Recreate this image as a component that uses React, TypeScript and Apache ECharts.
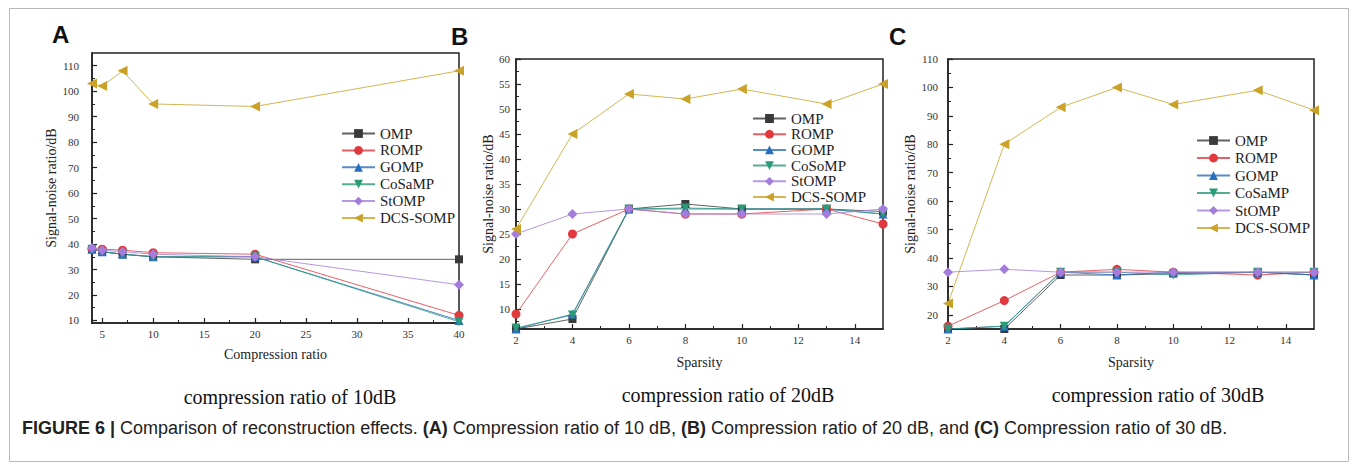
import React, { useEffect, useRef } from "react";
import * as echarts from "echarts";

// ---------- data ----------
const seriesNamesA = ["OMP", "ROMP", "GOMP", "CoSaMP", "StOMP", "DCS-SOMP"];
const seriesNamesB = ["OMP", "ROMP", "GOMP", "CoSoMP", "StOMP", "DCS-SOMP"];
const seriesNamesC = ["OMP", "ROMP", "GOMP", "CoSaMP", "StOMP", "DCS-SOMP"];

const xA = [4, 5, 7, 10, 20, 40];
const A_OMP = [38, 37, 36, 35, 34, 34];
const A_ROMP = [38, 38, 37.6, 36.6, 36, 12];
const A_GOMP = [38, 37, 36, 35, 35, 10];
const A_CoSaMP = [38, 37, 36, 35, 35, 9.5];
const A_StOMP = [38.4, 37.6, 37, 36, 35, 24];
const A_DCS = [103, 102, 108, 95, 94, 108];

const xB = [2, 4, 6, 8, 10, 13, 15];
const B_OMP = [6, 8, 30, 31, 30, 30, 29.5];
const B_ROMP = [9, 25, 30, 29, 29, 30, 27];
const B_GOMP = [6, 9, 30, 30, 30, 30, 29];
const B_CoSoMP = [6.2, 8.8, 30, 30.2, 30, 30, 29];
const B_StOMP = [25, 29, 30, 29, 29, 29, 30];
const B_DCS = [26, 45, 53, 52, 54, 51, 55];

const xC = [2, 4, 6, 8, 10, 13, 15];
const C_OMP = [15, 15, 34, 34, 34.5, 35, 34];
const C_ROMP = [16, 25, 35, 36, 35, 34, 35];
const C_GOMP = [15, 16, 35, 34, 35, 35, 34];
const C_CoSaMP = [15, 16, 35, 35, 34, 35, 35];
const C_StOMP = [35, 36, 35, 35, 35, 35, 35];
const C_DCS = [24, 80, 93, 100, 94, 99, 92];

// tick values
const xTicksA = [5, 10, 15, 20, 25, 30, 35, 40];
const xMinorA = [7.5, 12.5, 17.5, 22.5, 27.5, 32.5, 37.5];
const yTicksA = [10, 20, 30, 40, 50, 60, 70, 80, 90, 100, 110];
const yMinorA = [15, 25, 35, 45, 55, 65, 75, 85, 95, 105];
const xTicksBC = [2, 4, 6, 8, 10, 12, 14];
const xMinorBC = [3, 5, 7, 9, 11, 13];
const yTicksB = [10, 15, 20, 25, 30, 35, 40, 45, 50, 55, 60];
const yMinorB = [7.5, 12.5, 17.5, 22.5, 27.5, 32.5, 37.5, 42.5, 47.5, 52.5, 57.5];
const yTicksC = [20, 30, 40, 50, 60, 70, 80, 90, 100, 110];
const yMinorC = [15, 25, 35, 45, 55, 65, 75, 85, 95, 105];

const COLORS = ["#3a3a3a", "#e0393e", "#2a6fbd", "#2a9a78", "#a47ddc", "#c9a227"];
const SYMBOLS = ["rect", "circle", "triangle", "triangle", "diamond", "triangle"];
const ROTATES = [0, 0, 0, 180, 0, 90];
const SIZES = [8, 9, 9, 9, 10, 10];

const SERIF = "Liberation Serif";
const SANS = "Liberation Sans";

function mkSeries(names: string[], x: number[], ys: number[][], idx: number) {
  return ys.map((y, i) => ({
    type: "line",
    name: names[i],
    xAxisIndex: idx,
    yAxisIndex: idx,
    data: x.map((v, k) => [v, y[k]]),
    symbol: SYMBOLS[i],
    symbolRotate: ROTATES[i],
    symbolSize: SIZES[i],
    itemStyle: { color: COLORS[i] },
    lineStyle: { color: COLORS[i], width: 1, opacity: 0.8 },
    z: i === 5 ? 3 : 2,
  }));
}

function mainX(grid: number, min: number, max: number, ticks: number[], name: string, gap: number) {
  return {
    type: "value",
    gridIndex: grid,
    min,
    max,
    position: "bottom",
    name,
    nameLocation: "middle",
    nameGap: gap,
    nameTextStyle: { fontFamily: SERIF, fontSize: 14, color: "#222" },
    axisLine: { show: true, onZero: false, lineStyle: { color: "#222", width: 1.5 } },
    axisTick: { show: true, inside: true, length: 5, customValues: ticks, lineStyle: { color: "#222", width: 1.2 } },
    axisLabel: { show: true, customValues: ticks, margin: 5, fontFamily: SERIF, fontSize: 11, color: "#333" },
    splitLine: { show: false },
  };
}
function minorX(grid: number, min: number, max: number, ticks: number[]) {
  return {
    type: "value",
    gridIndex: grid,
    min,
    max,
    position: "bottom",
    axisLine: { show: false, onZero: false },
    axisTick: { show: true, inside: true, length: 3, customValues: ticks, lineStyle: { color: "#222", width: 1 } },
    axisLabel: { show: false },
    splitLine: { show: false },
  };
}
function mainY(grid: number, min: number, max: number, ticks: number[], gap: number, margin: number) {
  return {
    type: "value",
    gridIndex: grid,
    min,
    max,
    position: "left",
    name: "Signal-noise ratio/dB",
    nameLocation: "middle",
    nameGap: gap,
    nameTextStyle: { fontFamily: SERIF, fontSize: 14, color: "#222" },
    axisLine: { show: true, onZero: false, lineStyle: { color: "#222", width: 1.5 } },
    axisTick: { show: true, inside: true, length: 5, customValues: ticks, lineStyle: { color: "#222", width: 1.2 } },
    axisLabel: { show: true, customValues: ticks, margin, fontFamily: SERIF, fontSize: 11, color: "#333" },
    splitLine: { show: false },
  };
}
function minorY(grid: number, min: number, max: number, ticks: number[]) {
  return {
    type: "value",
    gridIndex: grid,
    min,
    max,
    position: "left",
    axisLine: { show: false, onZero: false },
    axisTick: { show: true, inside: true, length: 3, customValues: ticks, lineStyle: { color: "#222", width: 1 } },
    axisLabel: { show: false },
    splitLine: { show: false },
  };
}
function mkLegend(names: string[], left: number, top: number, gap: number) {
  return {
    orient: "vertical",
    left,
    top,
    padding: 0,
    itemWidth: 33,
    itemHeight: 11,
    itemGap: gap,
    data: names,
    selectedMode: false,
    textStyle: { fontFamily: SERIF, fontSize: 15, color: "#222" },
  };
}

export default function App() {
  const ref = useRef<HTMLDivElement>(null);
  useEffect(() => {
    if (!ref.current) return;
    const chart = echarts.init(ref.current, null, { renderer: "svg" });
    const gridStyle = { show: true, borderColor: "#222", borderWidth: 1.5, backgroundColor: "transparent" };
    const letterFont = "bold 24px " + SANS;
    chart.setOption({
      animation: false,
      backgroundColor: "#fff",
      grid: [
        { left: 92, top: 53, width: 367, height: 270, ...gridStyle },
        { left: 516, top: 59, width: 367, height: 270, ...gridStyle },
        { left: 948, top: 59, width: 366, height: 270, ...gridStyle },
      ],
      xAxis: [
        mainX(0, 4, 40, xTicksA, "Compression ratio", 24),
        mainX(1, 2, 15, xTicksBC, "Sparsity", 26),
        mainX(2, 2, 15, xTicksBC, "Sparsity", 26),
        minorX(0, 4, 40, xMinorA),
        minorX(1, 2, 15, xMinorBC),
        minorX(2, 2, 15, xMinorBC),
      ],
      yAxis: [
        mainY(0, 9, 115, yTicksA, 30, 13),
        mainY(1, 6, 60, yTicksB, 21, 6),
        mainY(2, 15, 110, yTicksC, 31, 10),
        minorY(0, 9, 115, yMinorA),
        minorY(1, 6, 60, yMinorB),
        minorY(2, 15, 110, yMinorC),
      ],
      legend: [
        mkLegend(seriesNamesA, 341, 126, 1.9),
        mkLegend(seriesNamesB, 752, 111, 0.7),
        mkLegend(seriesNamesC, 1196, 133, 2.5),
      ],
      series: [
        ...mkSeries(seriesNamesA, xA, [A_OMP, A_ROMP, A_GOMP, A_CoSaMP, A_StOMP, A_DCS], 0),
        ...mkSeries(seriesNamesB, xB, [B_OMP, B_ROMP, B_GOMP, B_CoSoMP, B_StOMP, B_DCS], 1),
        ...mkSeries(seriesNamesC, xC, [C_OMP, C_ROMP, C_GOMP, C_CoSaMP, C_StOMP, C_DCS], 2),
      ],
      graphic: [
        {
          type: "rect",
          shape: { x: 9.5, y: 8.5, width: 1339, height: 453 },
          style: { fill: "none", stroke: "#b8b8b8", lineWidth: 1 },
          silent: true,
          z: -1,
        },
        { type: "text", left: 52, top: 22, style: { text: "A", font: letterFont, fill: "#111" } },
        { type: "text", left: 451, top: 24, style: { text: "B", font: letterFont, fill: "#111" } },
        { type: "text", left: 889, top: 24, style: { text: "C", font: letterFont, fill: "#111" } },
        {
          type: "text",
          x: 290,
          y: 397,
          style: { text: "compression ratio of 10dB", font: "20px " + SERIF, fill: "#111", align: "center", verticalAlign: "middle" },
        },
        {
          type: "text",
          x: 728,
          y: 395,
          style: { text: "compression ratio of 20dB", font: "20px " + SERIF, fill: "#111", align: "center", verticalAlign: "middle" },
        },
        {
          type: "text",
          x: 1158,
          y: 395,
          style: { text: "compression ratio of 30dB", font: "20px " + SERIF, fill: "#111", align: "center", verticalAlign: "middle" },
        },
        {
          type: "text",
          x: 22,
          y: 428,
          style: {
            text:
              "{b|FIGURE 6 |} Comparison of reconstruction effects. {b|(A)} Compression ratio of 10 dB, {b|(B)} Compression ratio of 20 dB, and {b|(C)} Compression ratio of 30 dB.",
            font: "18px " + SANS,
            fill: "#222",
            verticalAlign: "middle",
            rich: {
              b: { fontWeight: "bold", fontSize: 18, fontFamily: SANS, fill: "#222" },
            },
          },
        },
      ],
    });
    return () => chart.dispose();
  }, []);
  return <div ref={ref} style={{ position: "absolute", left: 0, top: 0, width: 1357, height: 471 }} />;
}
